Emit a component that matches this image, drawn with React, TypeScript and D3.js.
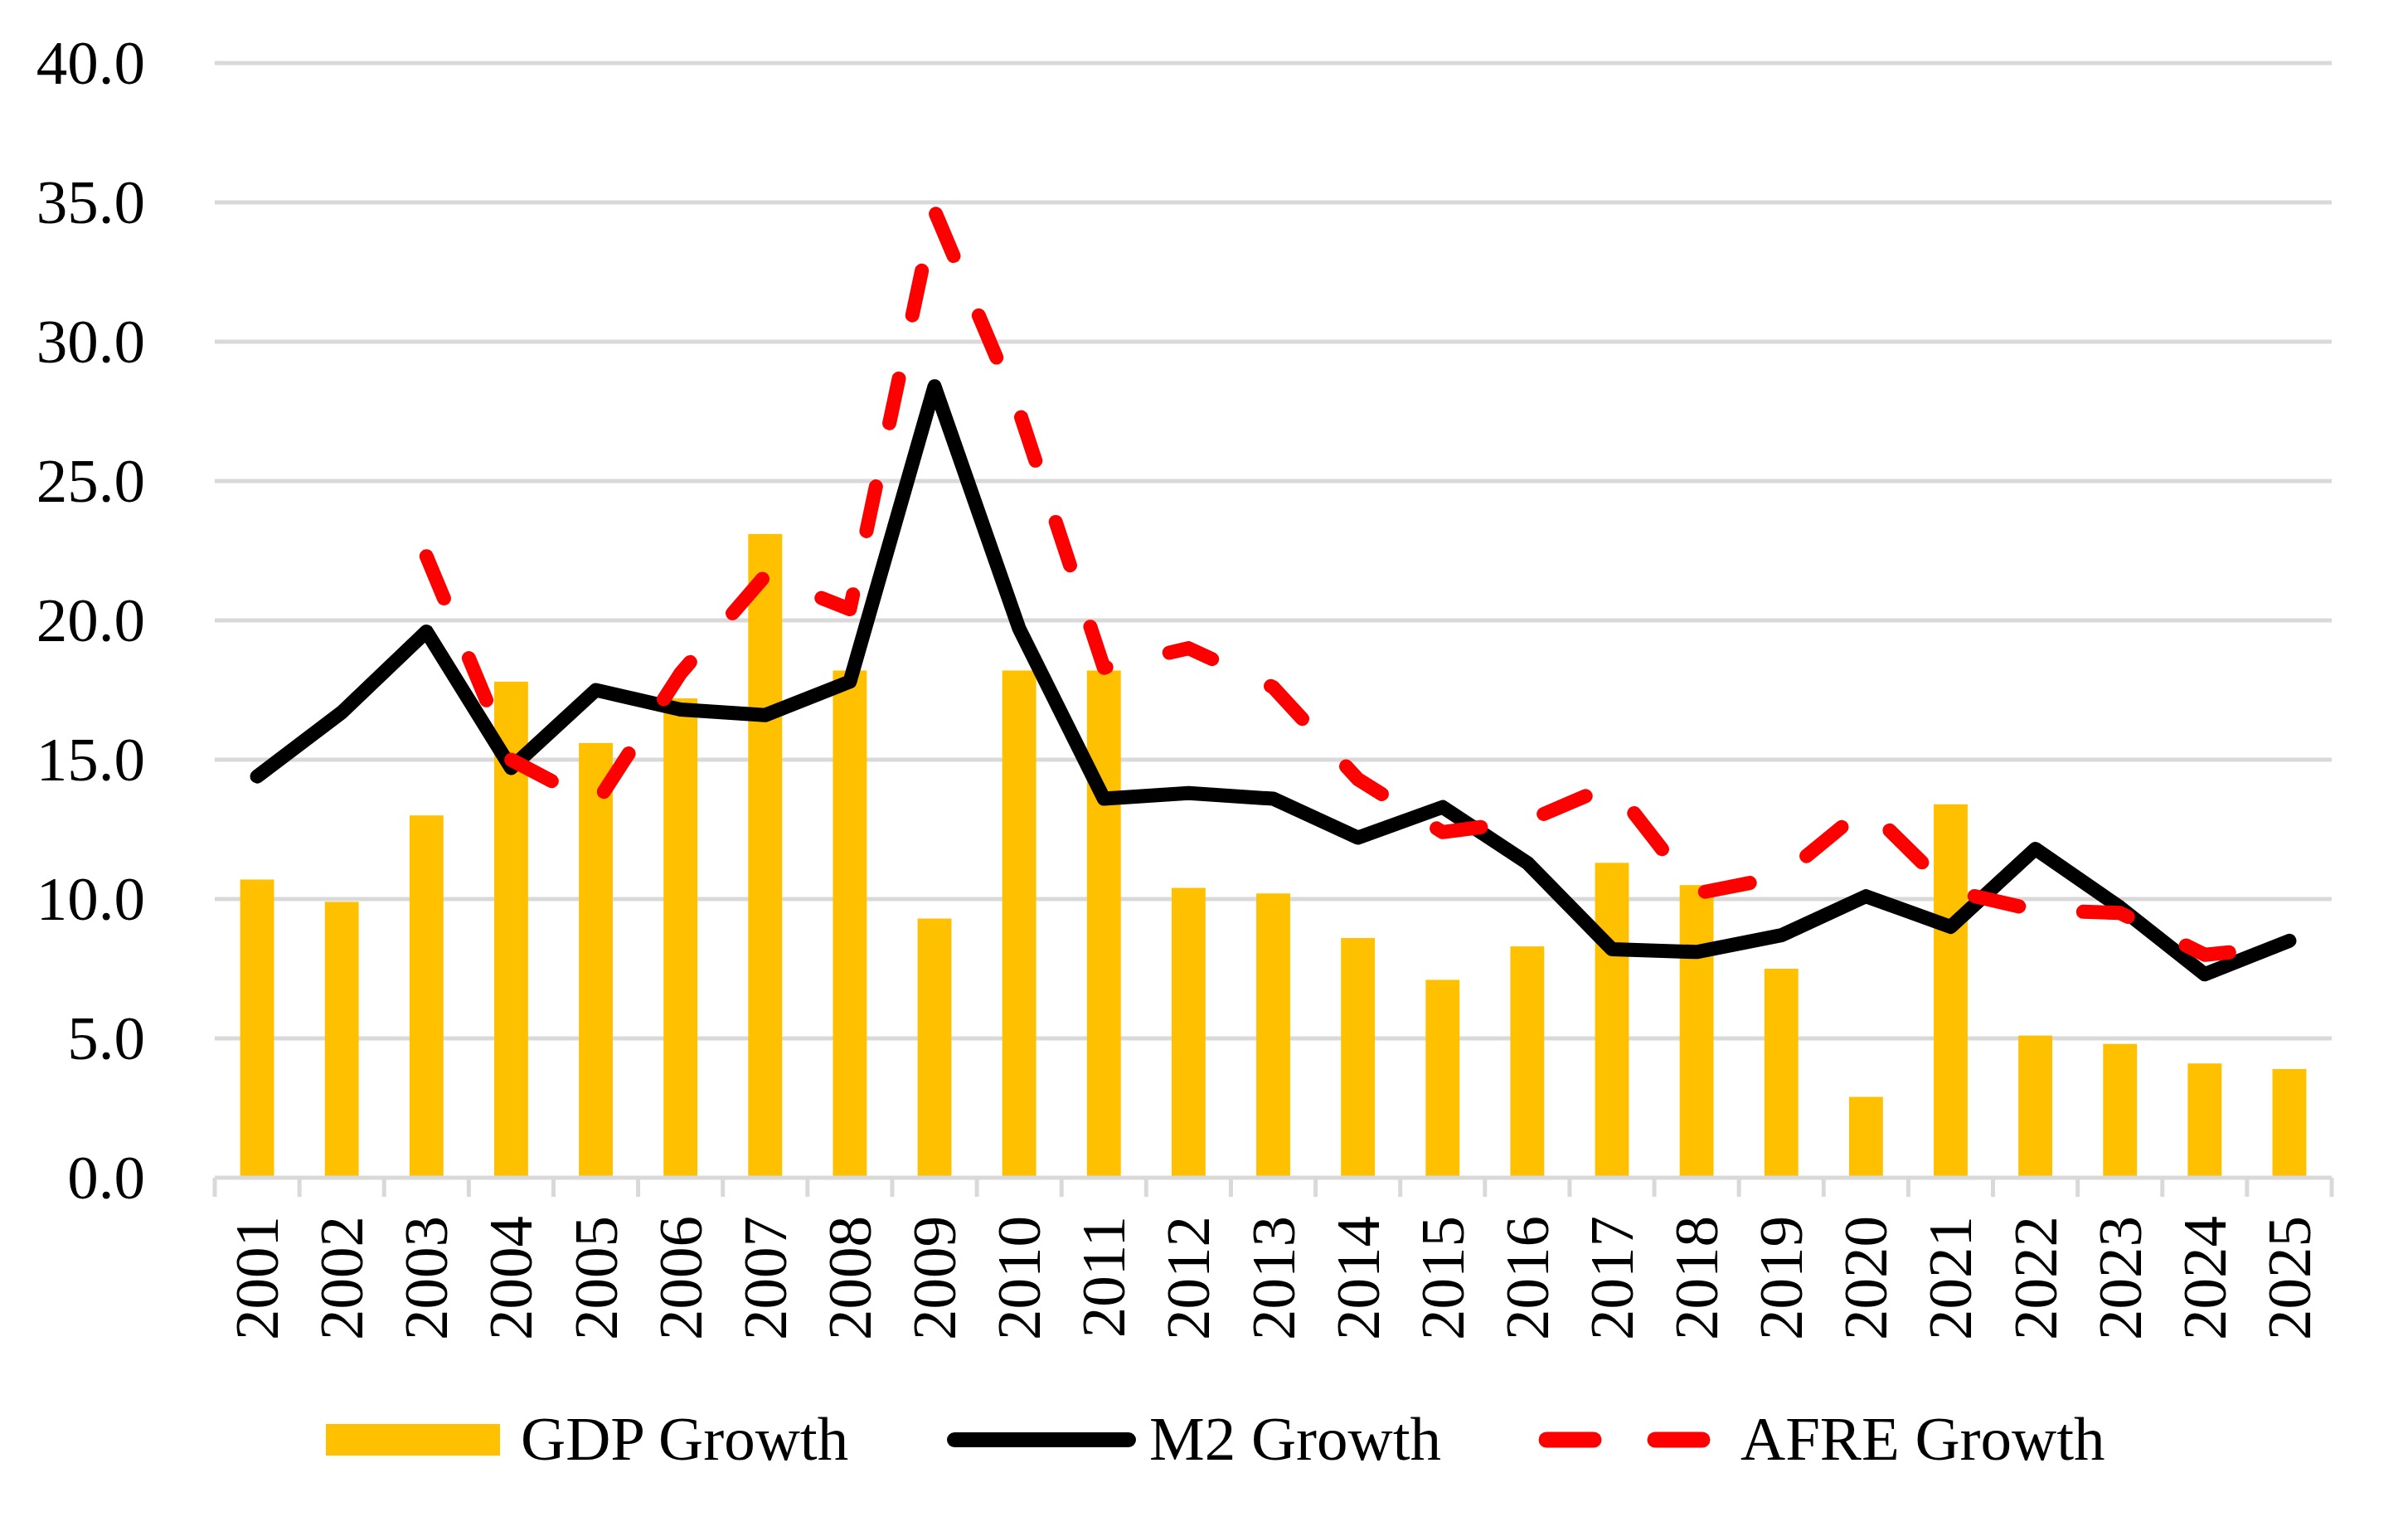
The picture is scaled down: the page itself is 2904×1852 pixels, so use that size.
import React from 'react';
import * as d3 from 'd3';

const years = [
  '2001', '2002', '2003', '2004', '2005', '2006', '2007', '2008', '2009', '2010',
  '2011', '2012', '2013', '2014', '2015', '2016', '2017', '2018', '2019', '2020',
  '2021', '2022', '2023', '2024', '2025',
];

const gdpGrowth = [
  10.7, 9.9, 13.0, 17.8, 15.6, 17.2, 23.1, 18.2, 9.3, 18.2,
  18.2, 10.4, 10.2, 8.6, 7.1, 8.3, 11.3, 10.5, 7.5, 2.9,
  13.4, 5.1, 4.8, 4.1, 3.9,
];

const m2Growth = [
  14.4, 16.7, 19.6, 14.7, 17.5, 16.8, 16.6, 17.8, 28.4, 19.7,
  13.6, 13.8, 13.6, 12.2, 13.3, 11.3, 8.2, 8.1, 8.7, 10.1,
  9.0, 11.8, 9.7, 7.3, 8.5,
];

const afreGrowth: (number | null)[] = [
  null, null, 22.3, 15.0, 13.4, 18.1, 21.6, 20.4, 34.7, 27.5,
  18.3, 19.0, 17.6, 14.3, 12.4, 12.8, 14.1, 10.2, 10.8, 13.3,
  10.3, 9.6, 9.5, 8.0, 8.3,
];

const yTicks = [0, 5, 10, 15, 20, 25, 30, 35, 40];

const W = 2904;
const H = 1852;
const left = 259;
const right = 2812;
const top = 76;
const bottom = 1420;
const font = '"Liberation Serif", "Times New Roman", serif';
const fontSize = 75;

const App: React.FC = () => {
  const x = d3.scaleBand<string>().domain(years).range([left, right]).padding(0);
  const y = d3.scaleLinear().domain([0, 40]).range([bottom, top]);
  const bw = x.bandwidth() * 0.4;
  const cx = (yr: string) => x(yr)! + x.bandwidth() / 2;

  const line = d3.line<number | null>()
    .defined(d => d !== null)
    .x((_, i) => cx(years[i]))
    .y(d => y(d as number));

  const boundaries = [...years.map(yr => x(yr)!), right];

  return (
    <svg width={W} height={H} style={{ position: 'absolute', left: 0, top: 0, background: '#fff' }}
      fontFamily={font} fontSize={fontSize}>
      {/* gridlines */}
      {yTicks.filter(t => t > 0).map(t => (
        <line key={t} x1={left} x2={right} y1={y(t)} y2={y(t)} stroke="#d9d9d9" strokeWidth={5} />
      ))}
      {/* y labels */}
      {yTicks.map(t => (
        <text key={t} x={175} y={y(t) + 25} textAnchor="end" fill="#000">{t.toFixed(1)}</text>
      ))}
      {/* bars */}
      {gdpGrowth.map((v, i) => (
        <rect key={years[i]} x={cx(years[i]) - bw / 2} y={y(v)} width={bw} height={y(0) - y(v)} fill="#FFC000" />
      ))}
      {/* x axis */}
      <line x1={left} x2={right} y1={bottom} y2={bottom} stroke="#d9d9d9" strokeWidth={5} />
      {boundaries.map((bx, i) => (
        <line key={i} x1={bx} x2={bx} y1={bottom} y2={bottom + 23} stroke="#d9d9d9" strokeWidth={5} />
      ))}
      {years.map(yr => (
        <text key={yr} transform={`translate(${cx(yr) + 25},${1466}) rotate(-90)`} textAnchor="end" fill="#000">{yr}</text>
      ))}
      {/* lines */}
      <path d={line(m2Growth)!} fill="none" stroke="#000" strokeWidth={17} strokeLinejoin="round" strokeLinecap="round" />
      <path d={line(afreGrowth)!} fill="none" stroke="#FF0000" strokeWidth={17} strokeLinejoin="round"
        strokeLinecap="round" strokeDasharray="55 78" />
      {/* legend */}
      <rect x={393} y={1717} width={210} height={38} fill="#FFC000" />
      <text x={628} y={1760} fill="#000">GDP Growth</text>
      <line x1={1151} x2={1361} y1={1736} y2={1736} stroke="#000" strokeWidth={18} strokeLinecap="round" />
      <text x={1386} y={1760} fill="#000">M2 Growth</text>
      <line x1={1865} x2={1922} y1={1736} y2={1736} stroke="#FF0000" strokeWidth={19} strokeLinecap="round" />
      <line x1={1996} x2={2053} y1={1736} y2={1736} stroke="#FF0000" strokeWidth={19} strokeLinecap="round" />
      <text x={2099} y={1760} fill="#000">AFRE Growth</text>
    </svg>
  );
};

export default App;
